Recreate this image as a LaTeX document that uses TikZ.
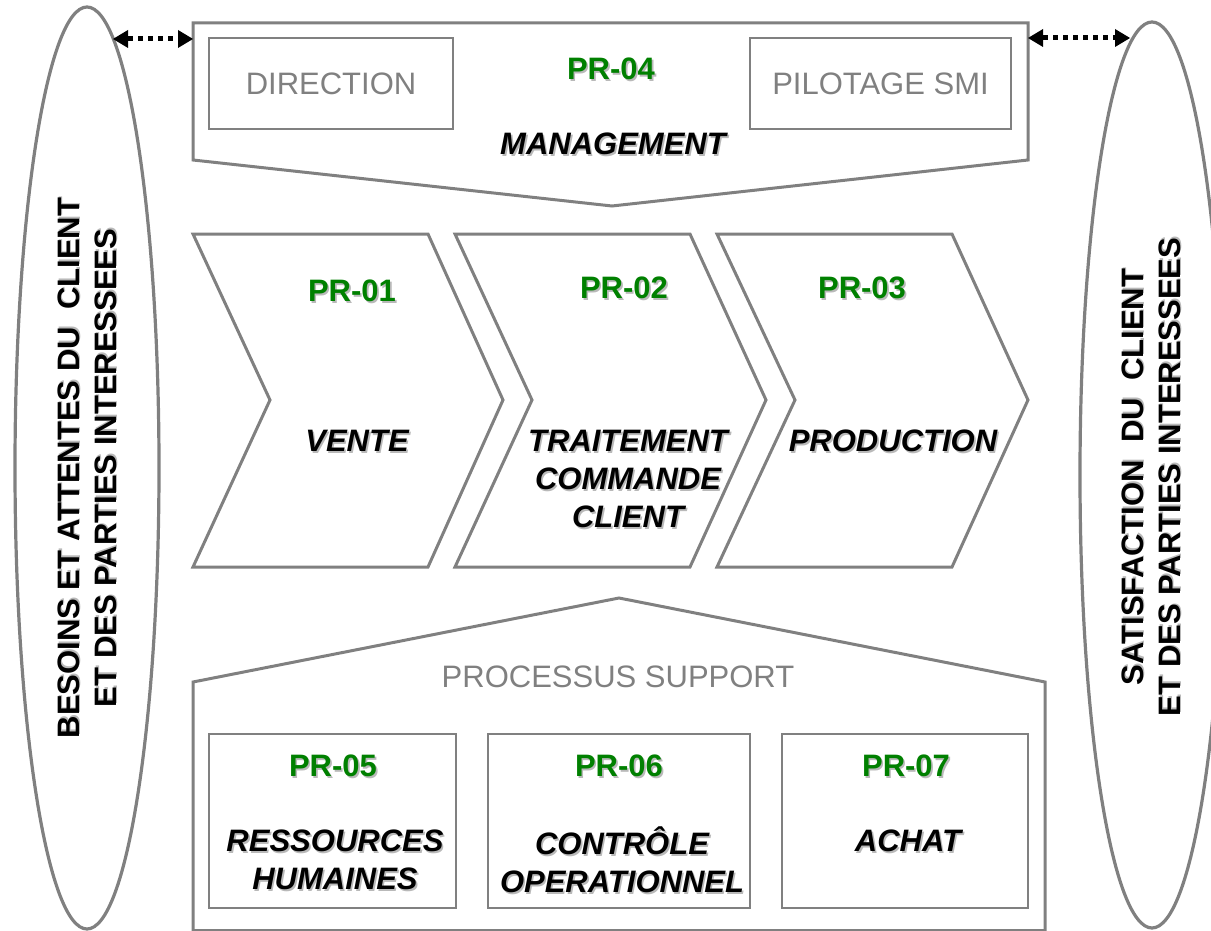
\documentclass[tikz,border=0pt]{standalone}
\usepackage{fontspec}
\setmainfont{Liberation Sans}
\usetikzlibrary{shapes.geometric,arrows.meta}
\definecolor{lgray}{RGB}{128,128,128}
\definecolor{prgreen}{RGB}{0,128,0}
\definecolor{shgray}{RGB}{185,185,185}
\newcommand\shd[1]{\leavevmode\rlap{\hspace{1.6pt}\raisebox{-1.6pt}{\textcolor{shgray}{#1}}}#1}
\begin{document}
\begin{tikzpicture}[x=1pt,y=-1pt,
  outline/.style={draw=lgray,line width=3pt,line join=miter},
  innerbox/.style={draw=lgray,line width=2pt,rectangle,inner sep=0pt},
  bigtxt/.style={font=\fontsize{31}{38}\selectfont,inner sep=0pt,align=center},
  graytxt/.style={bigtxt,text=lgray},
  prlabel/.style={bigtxt,font=\fontsize{31}{38}\selectfont\bfseries,text=prgreen},
  proc/.style={bigtxt,font=\fontsize{31}{38}\selectfont\bfseries\itshape},
  sidetxt/.style={bigtxt,font=\fontsize{31}{37}\selectfont\bfseries,rotate=90},
  sideell/.style={ellipse,draw=lgray,line width=3.2pt,inner sep=0pt,minimum width=144pt},
  dotarrow/.style={line width=5pt,dash pattern=on 5pt off 5pt,{Triangle[length=15pt,width=18pt,line width=0pt]}-{Triangle[length=15pt,width=18pt,line width=0pt]}}
]
\useasboundingbox (0,0) rectangle (1211,931);

% side ellipses
\node[sideell,minimum height=922pt] (lell) at (87,468) {};
\node[sideell,minimum height=906pt] (rell) at (1152,475) {};
\node[sidetxt] (ltxt) at (88,468) {\shd{BESOINS ET ATTENTES DU\ \ CLIENT}\\\shd{ET DES PARTIES INTERESSEES}};
\node[sidetxt] (rtxt) at (1152,477) {\shd{SATISFACTION\ \ DU\ \ CLIENT}\\\shd{ET DES PARTIES INTERESSEES}};

% management
\draw[outline] (193,23) -- (1028,23) -- (1028,160) -- (612,206) -- (193,160) -- cycle;
\coordinate (mgL) at (193,39);
\coordinate (mgR) at (1028,38);
\node[innerbox,minimum width=244pt,minimum height=91pt,text=lgray,font=\fontsize{31}{38}\selectfont] (dir) at (331,83.5) {DIRECTION};
\node[innerbox,minimum width=261pt,minimum height=91pt,text=lgray,font=\fontsize{31}{38}\selectfont] (pil) at (880.5,83.5) {PILOTAGE SMI};
\node[prlabel] (pr04) at (611,70) {\shd{PR-04}};
\node[proc] (mgmt) at (613,145) {\shd{MANAGEMENT}};

% dotted arrows
\coordinate (la) at (113,39);
\coordinate (ra) at (1130,38);
\draw[dotarrow] (la) -- (mgL);
\draw[dotarrow] (mgR) -- (ra);

% chevrons
\draw[outline] (193,234) -- (428,234) -- (503,400) -- (428,567) -- (193,567) -- (270,400) -- cycle;
\draw[outline] (455,234) -- (690,234) -- (766,400) -- (690,567) -- (455,567) -- (532,400) -- cycle;
\draw[outline] (717,234) -- (952,234) -- (1028,400) -- (952,567) -- (717,567) -- (795,400) -- cycle;
\node[prlabel] (pr01) at (352,292) {\shd{PR-01}};
\node[prlabel] (pr02) at (624,289) {\shd{PR-02}};
\node[prlabel] (pr03) at (862,289) {\shd{PR-03}};
\node[proc] (vente) at (357,442) {\shd{VENTE}};
\node[proc] (tcc) at (628,480) {\shd{TRAITEMENT}\\\shd{COMMANDE}\\\shd{CLIENT}};
\node[proc] (prod) at (893,442) {\shd{PRODUCTION}};

% support
\draw[outline] (193,931) -- (193,682) -- (619,598) -- (1045,682) -- (1045,931);
\draw[outline] (193,930) -- (1045,930);
\node[graytxt] (sup) at (618,677) {PROCESSUS SUPPORT};
\node[innerbox,minimum width=247pt,minimum height=174pt] (b5) at (332.5,821) {};
\node[innerbox,minimum width=262pt,minimum height=174pt] (b6) at (619,821) {};
\node[innerbox,minimum width=246pt,minimum height=174pt] (b7) at (905,821) {};
\node[prlabel] (pr05) at (333,767) {\shd{PR-05}};
\node[prlabel] (pr06) at (619,767) {\shd{PR-06}};
\node[prlabel] (pr07) at (906,767) {\shd{PR-07}};
\node[proc] (rh) at (335,861) {\shd{RESSOURCES}\\\shd{HUMAINES}};
\node[proc] (co) at (622,861) {\shd{CONTRÔLE}\\\shd{OPERATIONNEL}};
\node[proc] (ach) at (908,842) {\shd{ACHAT}};
\end{tikzpicture}
\end{document}
